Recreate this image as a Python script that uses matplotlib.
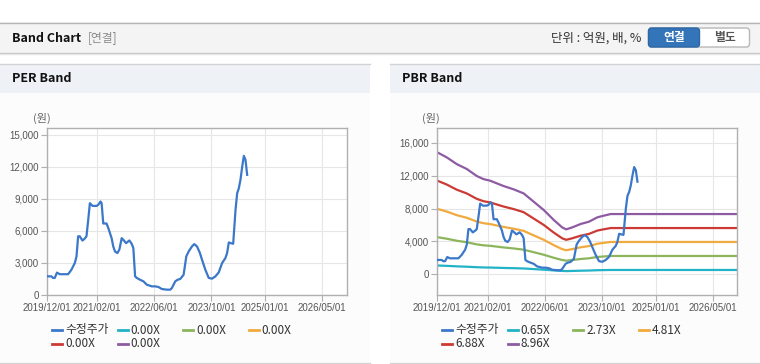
import matplotlib
matplotlib.use("Agg")
import matplotlib.pyplot as plt
import matplotlib.dates as mdates
from matplotlib.patches import Rectangle, FancyBboxPatch
from matplotlib.transforms import IdentityTransform
from matplotlib.ticker import FuncFormatter
import pandas as pd

#################################
# Data
#################################
price_dates = [
    "2019-12-01", "2020-01-07", "2020-01-21", "2020-02-05", "2020-02-24",
    "2020-03-18", "2020-05-29", "2020-06-26", "2020-07-25", "2020-08-08",
    "2020-08-22", "2020-09-05", "2020-09-28", "2020-10-18", "2020-11-01",
    "2020-11-16", "2020-11-30", "2020-12-23", "2021-01-26", "2021-02-09",
    "2021-03-01", "2021-03-10", "2021-03-24", "2021-04-21", "2021-05-06",
    "2021-06-03", "2021-06-17", "2021-07-02", "2021-07-22", "2021-08-08",
    "2021-08-28", "2021-09-11", "2021-10-04", "2021-11-01", "2021-11-21",
    "2021-12-05", "2021-12-20", "2022-01-03", "2022-01-31", "2022-03-01",
    "2022-03-29", "2022-05-11", "2022-06-09", "2022-07-07", "2022-08-05",
    "2022-09-16", "2022-10-15", "2022-10-29", "2022-11-27", "2022-12-17",
    "2023-01-08", "2023-02-06", "2023-03-01", "2023-03-21", "2023-04-18",
    "2023-05-08", "2023-05-31", "2023-06-23", "2023-07-13", "2023-08-10",
    "2023-09-08", "2023-10-06", "2023-11-04", "2023-12-02", "2023-12-31",
    "2024-01-28", "2024-02-11", "2024-02-26", "2024-03-11", "2024-04-03",
    "2024-04-23", "2024-05-07", "2024-05-21", "2024-06-04", "2024-06-19",
    "2024-07-03", "2024-07-17", "2024-07-31",
]
price_values = [
    1750, 1750, 1600, 1600, 2100,
    1950, 1950, 2370, 3000, 3600,
    5500, 5500, 5100, 5300, 5500,
    7050, 8600, 8350, 8350, 8450,
    8760, 8600, 6700, 6700, 6270,
    5330, 4550, 4080, 3930, 4250,
    5330, 5170, 4860, 5110, 4800,
    4400, 1750, 1600, 1430, 1280,
    970, 810, 810, 750, 560,
    500, 500, 650, 1280, 1430,
    1500, 1900, 3620, 4080, 4550,
    4770, 4550, 3990, 3300, 2370,
    1600, 1530, 1750, 2120, 3000,
    3460, 3930, 4930, 4870, 4800,
    7980, 9540, 10000, 10790, 12040,
    13040, 12660, 11260,
]

# book value per share behind the PBR band lines
band_dates = [
    "2019-12-01", "2020-02-19", "2020-05-14", "2020-08-08", "2020-11-01",
    "2020-12-28", "2021-02-24", "2021-04-21", "2021-06-17", "2021-09-11",
    "2021-12-05", "2022-03-01", "2022-05-25", "2022-08-19", "2022-10-29",
    "2022-12-02", "2023-01-23", "2023-04-04", "2023-06-14", "2023-08-24",
    "2023-10-06", "2023-12-16", "2026-11-28",
]
bps_values = [
    1655, 1587, 1496, 1429, 1334,
    1292, 1270, 1234, 1198, 1153,
    1098, 985, 873, 737, 637,
    610, 637, 683, 714, 773,
    791, 818, 818,
]

per_multiples = [0.0, 0.0, 0.0, 0.0, 0.0]
pbr_multiples = [0.65, 2.73, 4.81, 6.88, 8.96]
band_colors = ["#22b3c6", "#8cb55c", "#f1aa3e", "#cc3a33", "#8e5ba2"]
price_color = "#3b78c9"
price_label = "수정주가"

x_tick_dates = ["2019-12-01", "2021-02-01", "2022-06-01",
                "2023-10-01", "2025-01-01", "2026-05-01"]
x_start, x_end = "2019-12-01", "2026-11-28"

W, H = 760, 364
KR = ["Noto Sans CJK KR", "DejaVu Sans"]
TICKFONT = ["Liberation Sans Narrow", "Liberation Sans", "DejaVu Sans"]


def frac_rect(x, y, w, h, **kw):
    # pixel box (top-left origin) -> figure fraction rectangle
    return Rectangle((x / W, 1 - (y + h) / H), w / W, h / H,
                     transform=fig.transFigure, zorder=-2, **kw)


def ftext(x, y, s, **kw):
    fig.text(x / W, 1 - y / H, s, **kw)


def fline(x0, x1, y, z=-1, **kw):
    fig.add_artist(plt.Line2D([x0 / W, x1 / W], [1 - y / H, 1 - y / H],
                              transform=fig.transFigure, zorder=z, **kw))


def draw_panel(x0, x1, title):
    fig.add_artist(frac_rect(x0, 93, x1 - x0, 269, facecolor="#fcfcfc",
                             edgecolor="none"))
    fig.add_artist(frac_rect(x0, 64, x1 - x0, 29, facecolor="#eef1f6",
                             edgecolor="none"))
    fline(x0, x1, 64, color="#d3d3d3", lw=1)
    fline(x0, x1, 362.5, color="#d3d3d3", lw=1)
    ftext(x0 + 12, 79, title, fontsize=9, fontweight="bold",
          family=KR, color="#111111", va="center")


def style_axes(ax, ylim, yticks):
    ax.set_facecolor("white")
    ax.set_xlim(pd.Timestamp(x_start), pd.Timestamp(x_end))
    ax.set_ylim(*ylim)
    ax.set_yticks(yticks)
    ax.set_xticks(pd.to_datetime(x_tick_dates))
    ax.xaxis.set_major_formatter(mdates.DateFormatter("%Y/%m/%d"))
    ax.yaxis.set_major_formatter(FuncFormatter(lambda v, _: f"{int(v):,}"))
    ax.grid(True, color="#e6e6e6", lw=0.8)
    ax.set_axisbelow(True)
    for s in ax.spines.values():
        s.set_color("#b0b0b0")
        s.set_linewidth(1)
    ax.tick_params(axis="both", colors="#b0b0b0", labelcolor="#555555",
                   length=4, width=0.8, labelsize=7, pad=2)
    for lab in ax.get_xticklabels() + ax.get_yticklabels():
        lab.set_family(TICKFONT)


def draw_legend(x0, labels, colors):
    for i, (lab, col) in enumerate(zip(labels, colors)):
        x = x0 + (i % 4) * 65.5
        y = 330 + (i // 4) * 13.5
        fline(x, x + 10, y, z=3, color=col, lw=2)
        ftext(x + 13, y, lab, fontsize=8.5, family=KR, color="#333333",
              va="center")


fig = plt.figure(figsize=(W / 100, H / 100), dpi=100)
fig.patch.set_facecolor("white")

# top header bar
fig.add_artist(frac_rect(0, 22, W, 31, facecolor="#f4f4f4", edgecolor="none"))
fline(0, W, 22.5, color="#b5b5b5", lw=1)
fline(0, W, 53, color="#c4c4c4", lw=1)
fline(0, W, 54, color="#e6e6e6", lw=1)
ftext(12, 38, "Band Chart", fontsize=9, fontweight="bold", family=KR,
      color="#111111", va="center")
ftext(88, 38, "[연결]", fontsize=8.5, family=KR, color="#8a8a8a", va="center")
ftext(641, 38, "단위 : 억원, 배, %", fontsize=9, family=KR,
      color="#333333", va="center", ha="right")
fig.add_artist(FancyBboxPatch((648.5, H - 47), 101, 19,
                              boxstyle="round,pad=0,rounding_size=3",
                              facecolor="white", edgecolor="#b8b8b8", lw=1,
                              transform=IdentityTransform()))
fig.add_artist(FancyBboxPatch((648.5, H - 47), 51, 19,
                              boxstyle="round,pad=0,rounding_size=3",
                              facecolor="#3474b8", edgecolor="#2e68a6", lw=1,
                              transform=IdentityTransform()))
ftext(674, 37.5, "연결", fontsize=8.5, fontweight="bold", family=KR,
      color="white", va="center", ha="center")
ftext(724.5, 37.5, "별도", fontsize=8.5, fontweight="bold", family=KR,
      color="#555555", va="center", ha="center")

draw_panel(0, 370, "PER Band")
draw_panel(390, 760, "PBR Band")

pdates = pd.to_datetime(price_dates)
bdates = pd.to_datetime(band_dates)

# PER band: every multiple is 0.00X, so those lines sit on the axis floor
# and are hidden under the frame in the original
ax1 = fig.add_axes([47 / W, 1 - 295 / H, 300 / W, 167 / H])
ax1.plot(pdates, price_values, color=price_color, lw=1.6, zorder=3)
style_axes(ax1, (0, 15650), range(0, 15001, 3000))
ftext(33, 118, "(원)", fontsize=8, family=KR, color="#666666", va="center")

# PBR band
ax2 = fig.add_axes([437.3 / W, 1 - 295 / H, 300 / W, 166.7 / H])
for m, col in zip(pbr_multiples, band_colors):
    ax2.plot(bdates, [b * m for b in bps_values], color=col, lw=1.6, zorder=2)
ax2.plot(pdates, price_values, color=price_color, lw=1.6, zorder=3)
style_axes(ax2, (-2510, 17750), range(0, 16001, 4000))
ftext(422, 118, "(원)", fontsize=8, family=KR, color="#666666", va="center")

draw_legend(52, [price_label] + [f"{m:.2f}X" for m in per_multiples],
            [price_color] + band_colors)
draw_legend(442, [price_label] + [f"{m:.2f}X" for m in pbr_multiples],
            [price_color] + band_colors)

fig.savefig("out.png", dpi=100)
